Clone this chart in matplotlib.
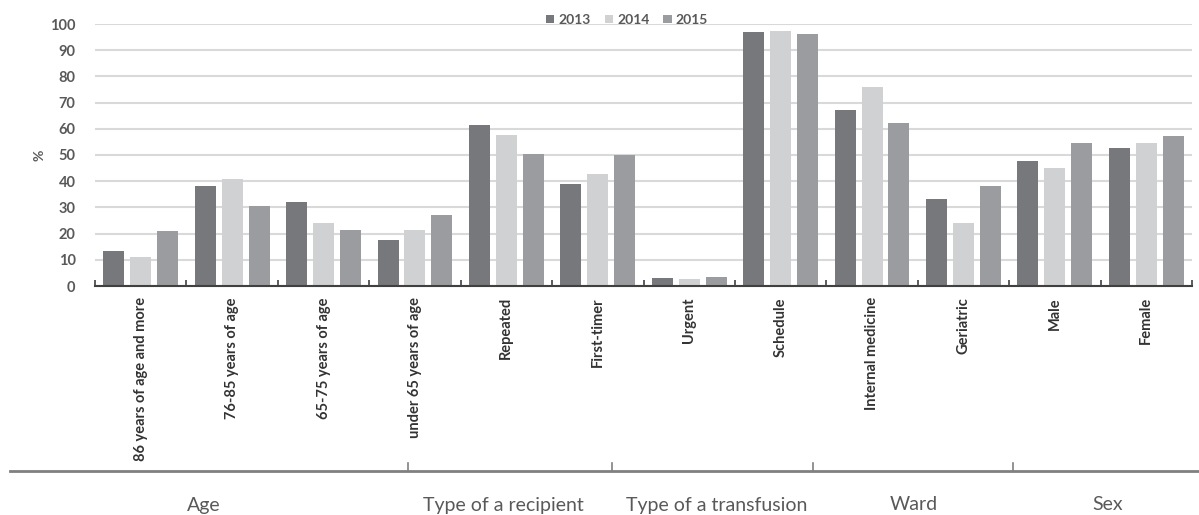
import numpy as np
import matplotlib
matplotlib.use("Agg")
import matplotlib.pyplot as plt

plt.rcParams['font.family'] = ['Lato', 'DejaVu Sans']

categories = ['86 years of age and more', '76-85 years of age', '65-75 years of age',
              'under 65 years of age', 'Repeated', 'First-timer', 'Urgent', 'Schedule',
              'Internal medicine', 'Geriatric', 'Male', 'Female']
years = ['2013', '2014', '2015']
v2013 = [13.3, 38.1, 32.0, 17.5, 61.5, 38.9, 2.9, 96.8, 67.0, 33.1, 47.7, 52.5]
v2014 = [11.1, 40.8, 24.2, 21.5, 57.5, 42.9, 2.8, 97.3, 75.9, 24.2, 44.9, 54.5]
v2015 = [20.9, 30.5, 21.5, 27.0, 50.4, 49.9, 3.6, 96.1, 62.2, 38.0, 54.5, 57.3]
groups = ['Age', 'Type of a recipient', 'Type of a transfusion', 'Ward', 'Sex']

colors = ['#77787c', '#d0d1d3', '#9b9c9f']
series = [v2013, v2014, v2015]

fig = plt.figure(figsize=(11.99, 5.15), dpi=100)
ax = fig.add_axes([95/1199, 1-286/515, 1097/1199, 262/515])

x = np.arange(len(categories))
pitch = 0.2945
width = 0.229
for i, (vals, c) in enumerate(zip(series, colors)):
    ax.bar(x + (i-1)*pitch, vals, width, color=c, label=years[i], zorder=3)

ax.set_xlim(-0.5, len(categories)-0.5)
ax.set_ylim(0, 100)
ax.set_yticks(np.arange(0, 101, 10))
ax.yaxis.grid(True, color='#d9d9d9', linewidth=1.5, zorder=0)
ax.set_axisbelow(True)
for s in ['top', 'right', 'left']:
    ax.spines[s].set_visible(False)
ax.spines['bottom'].set_color('#404040')
ax.spines['bottom'].set_linewidth(1.5)
ax.spines['bottom'].set_zorder(4)
ax.tick_params(axis='y', length=0, pad=14, labelsize=10.5, labelcolor='#595959')
for t in ax.get_yticklabels():
    t.set_fontweight('bold')

# category ticks sit on the boundaries, labels in the middle
ax.set_xticks(np.arange(-0.5, len(categories), 1.0))
ax.set_xticklabels([])
ax.tick_params(axis='x', direction='in', length=4, width=1.2, color='#404040')
ax.set_xticks(x, minor=True)
ax.set_xticklabels(categories, minor=True, rotation=90, va='top', ha='center',
                   fontsize=10.5, fontweight='bold', color='#333333')
ax.tick_params(axis='x', which='minor', length=0, pad=8)

ax.set_ylabel('%', fontsize=10, color='#595959', fontweight='bold', labelpad=3)

leg = ax.legend(loc='upper center', bbox_to_anchor=(0.485, 1.06), ncol=3, frameon=False,
                handlelength=0.6, handleheight=0.6, handletextpad=0.3, columnspacing=1.0,
                fontsize=10, borderaxespad=0)
for t in leg.get_texts():
    t.set_color('#595959')
    t.set_fontweight('bold')

# grouping band below the category labels, in pixel coordinates
gax = fig.add_axes([0, 0, 1, 1], facecolor='none')
gax.set_xlim(0, 1199)
gax.set_ylim(515, 0)
gax.axis('off')
line_y = 471
gax.plot([10, 1199], [line_y, line_y], color='#808080', lw=2)
for bx in [408, 612, 813, 1013]:
    gax.plot([bx, bx], [line_y-8, line_y], color='#808080', lw=1.2)
for name, cx in zip(groups, [204, 503, 717, 914, 1108]):
    gax.text(cx, 505, name, ha='center', va='center', fontsize=14, color='#595959')

fig.savefig('out.png', dpi=100)
